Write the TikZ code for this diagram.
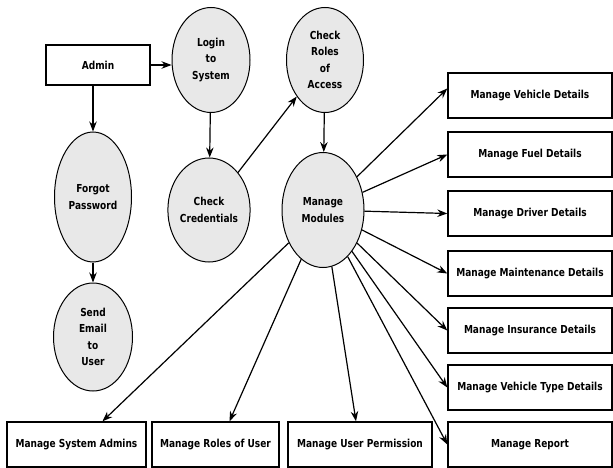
\documentclass[tikz,border=0pt]{standalone}
\usepackage{fontspec}
\setmainfont{DejaVu Sans}[FakeStretch=0.82]
\usetikzlibrary{shapes.geometric, arrows.meta}
\definecolor{procfill}{RGB}{232, 232, 232}

\begin{document}
\begin{tikzpicture}[x=1pt, y=-1pt, font=\bfseries\fontsize{11}{16.5}\selectfont,
  proc/.style={ellipse, draw, line width=1pt, fill=procfill, inner sep=0pt, align=center},
  ent/.style={rectangle, draw, line width=1.4pt, minimum height=45pt},
  flow/.style={-{Stealth[length=10pt, width=7.5pt]}, line width=1.2pt}]
  \useasboundingbox (0,0) rectangle (613,468);

  % processes
  \node[rectangle, draw, line width=1.4pt, minimum width=104pt, minimum height=40pt] (admin) at (98,65) {Admin};
  \node[proc, minimum width=78pt, minimum height=105pt] (login) at (211,60) {Login\\to\\System};
  \node[proc, minimum width=77pt, minimum height=105pt] (roles) at (325,60) {Check\\Roles\\of\\Access};
  \node[proc, minimum width=77pt, minimum height=130pt] (forgot) at (93,197) {Forgot\\Password};
  \node[proc, minimum width=76pt, minimum height=104pt] (cred) at (209,210) {Check\\Credentials};
  \node[proc, minimum width=82pt, minimum height=115pt] (modules) at (323,210) {Manage\\Modules};
  \node[proc, minimum width=79pt, minimum height=108pt] (email) at (93,337) {Send\\Email\\to\\User};

  % right column
  \foreach \name/\y/\txt in {veh/95.5/Manage Vehicle Details, fuel/154.5/Manage Fuel Details,
      drv/213.5/Manage Driver Details, mnt/273.5/Manage Maintenance Details,
      ins/330.5/Manage Insurance Details, vtyp/387.5/Manage Vehicle Type Details,
      rep/444.5/Manage Report}
    \node[ent, minimum width=164pt] (\name) at (530,\y) {\txt};

  % bottom row
  \node[ent, minimum width=139pt] (sys) at (76.5,444.5) {Manage System Admins};
  \node[ent, minimum width=127pt] (rol) at (215.5,444.5) {Manage Roles of User};
  \node[ent, minimum width=144pt] (perm) at (360,444.5) {Manage User Permission};

  % flows
  \draw[flow] (admin.east) -- (login.west |- admin.east);
  \draw[flow] (forgot.north |- admin.south) -- (forgot.north);
  \draw[flow] (login) -- (cred);
  \draw[flow] (cred) -- (roles);
  \draw[flow] (roles) -- (modules);
  \draw[flow] (forgot) -- (email);

  \draw[flow] (modules) -- ([yshift=7pt]veh.west);
  \foreach \name in {fuel, drv, mnt, ins, vtyp, rep}
    \draw[flow] (modules) -- (\name.west);
  \draw[flow] (modules) -- ([xshift=-4pt]perm.north);
  \draw[flow] (modules) -- ([xshift=14pt]rol.north);
  \draw[flow] (modules) -- ([xshift=26pt]sys.north);
\end{tikzpicture}
\end{document}
